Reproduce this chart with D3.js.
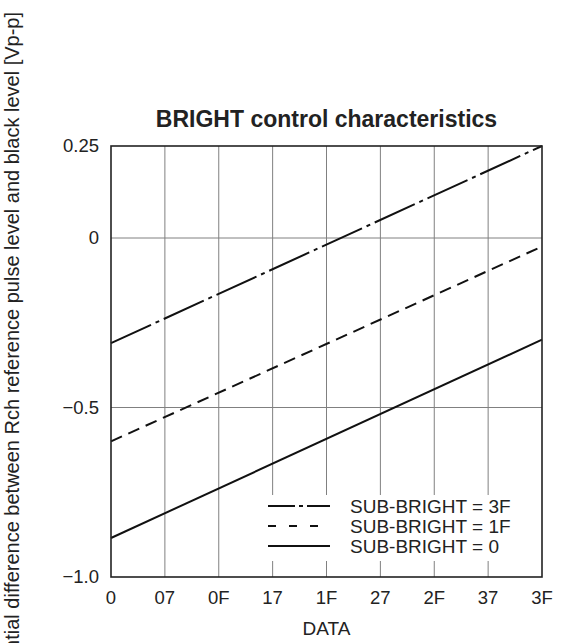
<!DOCTYPE html>
<html>
<head>
<meta charset="utf-8">
<style>
  body { margin: 0; background: #fff; }
  svg { display: block; font-family: "Liberation Sans", Arial, sans-serif; }
  .grid line { stroke: #808080; stroke-width: 1; }
</style>
</head>
<body>
<script src="https://d3js.org/d3.v7.min.js"></script>
<script>
// tick labels (hex DATA values) along x
var dataTicks = ["0", "07", "0F", "17", "1F", "27", "2F", "37", "3F"];
var yTicks = [-1.0, -0.5, 0, 0.25];
var yTickLabels = ["\u22121.0", "\u22120.5", "0", "0.25"];

// each curve is a straight line from DATA=0 to DATA=3F
var seriesNames = ["SUB-BRIGHT = 3F", "SUB-BRIGHT = 1F", "SUB-BRIGHT = 0"];
var seriesStart = [-0.31, -0.60, -0.885];
var seriesEnd = [0.25, -0.025, -0.30];

var width = 563, height = 643;
var plotLeft = 111, plotRight = 542, plotTop = 146, plotBottom = 577;

var svg = d3.select("body").append("svg")
    .attr("width", width)
    .attr("height", height);

var x = d3.scalePoint().domain(dataTicks).range([plotLeft, plotRight]);
// the printed axis is not quite even between 0 and 0.25
var y = d3.scaleLinear().domain([-1.0, 0, 0.25]).range([plotBottom, 238, plotTop]);

var dashes = ["44,5,4,5", "12,7", null];
var legendDashes = ["27,4,4,4", "8,13", null];

// grid
var grid = svg.append("g").attr("class", "grid");
grid.selectAll(".vx")
    .data(dataTicks.slice(1, -1))
    .enter().append("line")
    .attr("x1", d => x(d)).attr("x2", d => x(d))
    .attr("y1", plotTop).attr("y2", plotBottom);
grid.selectAll(".hy")
    .data([-0.5, 0])
    .enter().append("line")
    .attr("x1", plotLeft).attr("x2", plotRight)
    .attr("y1", d => y(d)).attr("y2", d => y(d));

// legend background hides the grid behind it
svg.append("rect")
    .attr("x", 262).attr("y", 495)
    .attr("width", plotRight - 262).attr("height", 66)
    .attr("fill", "#fff");

// curves
var line = d3.line().x(d => x(d[0])).y(d => y(d[1]));
svg.append("g").selectAll("path")
    .data(seriesNames)
    .enter().append("path")
    .attr("d", (d, i) => line([[dataTicks[0], seriesStart[i]], [dataTicks[dataTicks.length - 1], seriesEnd[i]]]))
    .attr("fill", "none")
    .attr("stroke", "#111")
    .attr("stroke-width", 2)
    .attr("stroke-dasharray", (d, i) => dashes[i]);

// frame
svg.append("rect")
    .attr("x", plotLeft).attr("y", plotTop)
    .attr("width", plotRight - plotLeft).attr("height", plotBottom - plotTop)
    .attr("fill", "none")
    .attr("stroke", "#222")
    .attr("stroke-width", 1.6);

// tick labels
svg.append("g").selectAll("text")
    .data(dataTicks)
    .enter().append("text")
    .attr("x", d => x(d)).attr("y", 604)
    .attr("text-anchor", "middle")
    .attr("font-size", 18.5)
    .attr("fill", "#222")
    .text(d => d);

svg.append("g").selectAll("text")
    .data(yTicks)
    .enter().append("text")
    .attr("x", 99).attr("y", d => y(d))
    .attr("dy", "0.35em")
    .attr("text-anchor", "end")
    .attr("font-size", 18.5)
    .attr("fill", "#222")
    .text((d, i) => yTickLabels[i]);

// titles
svg.append("text")
    .attr("x", (plotLeft + plotRight) / 2).attr("y", 126.5)
    .attr("text-anchor", "middle")
    .attr("font-size", 23)
    .attr("font-weight", "bold")
    .attr("fill", "#222")
    .text("BRIGHT control characteristics");

svg.append("text")
    .attr("x", (plotLeft + plotRight) / 2).attr("y", 635)
    .attr("text-anchor", "middle")
    .attr("font-size", 19)
    .attr("fill", "#222")
    .text("DATA");

svg.append("text")
    .attr("transform", "translate(19,12) rotate(-90)")
    .attr("text-anchor", "end")
    .attr("font-size", 20)
    .attr("fill", "#222")
    .text("Potential difference between Rch reference pulse level and black level [Vp-p]");

// legend
var lg = svg.append("g").selectAll("g")
    .data(seriesNames)
    .enter().append("g")
    .attr("transform", (d, i) => "translate(0," + (506 + i * 20) + ")");
lg.append("line")
    .attr("x1", 268).attr("x2", 330)
    .attr("stroke", "#111")
    .attr("stroke-width", 2)
    .attr("stroke-dasharray", (d, i) => legendDashes[i]);
lg.append("text")
    .attr("x", 350).attr("dy", "0.36em")
    .attr("font-size", 19)
    .attr("fill", "#222")
    .text(d => d);
</script>
</body>
</html>
